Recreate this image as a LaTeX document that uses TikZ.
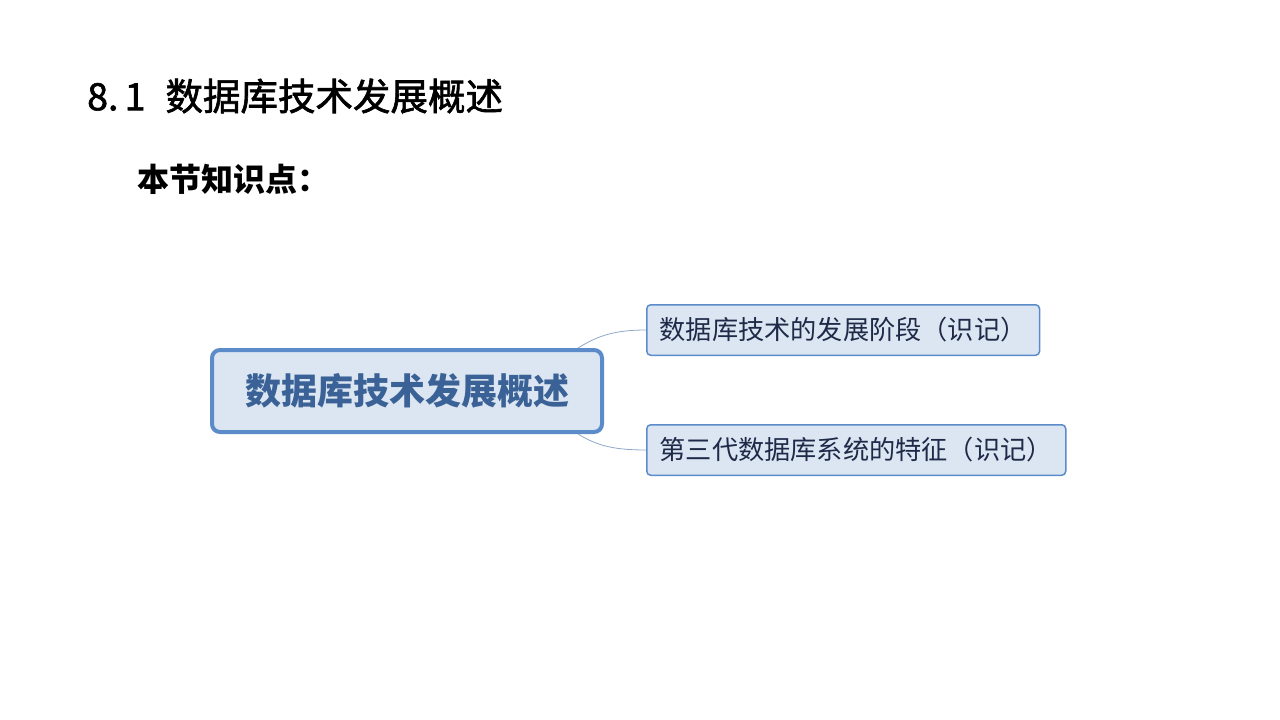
\documentclass[tikz,border=0pt]{standalone}
\usepackage{fontspec}
\usepackage{xcolor}
\usetikzlibrary{positioning}
\newfontfamily\cjk{Noto Sans CJK SC}
\newfontfamily\cjkheavy[FakeBold=1.6]{Noto Sans CJK SC}
\definecolor{boxfill}{HTML}{DCE6F2}
\definecolor{boxline}{HTML}{5B8BC9}
\definecolor{topictext}{HTML}{3A6296}
\definecolor{subtext}{HTML}{1E2A48}
\definecolor{linkcol}{HTML}{8EA7C8}

\begin{document}
\begin{tikzpicture}[
  x=1pt, y=-1pt,
  every node/.style={inner sep=0pt, font=\cjk},
  topic/.style={draw=boxline, fill=boxfill, line width=4pt, rounded corners=8pt,
                minimum width=390pt, minimum height=82pt, text=topictext,
                font=\cjk\bfseries\fontsize{36}{40}\selectfont},
  subtopic/.style={draw=boxline, fill=boxfill, line width=1.5pt, rounded corners=4pt,
                   minimum height=50.5pt, inner xsep=13pt, text=subtext,
                   font=\cjk\fontsize{26.2}{30}\selectfont},
  link/.style={draw=linkcol, line width=0.8pt}
]
  \useasboundingbox (0,0) rectangle (1280,720);

  \node (title) [anchor=west, font=\cjkheavy\fontsize{37.5}{42}\selectfont] at (87,96) {8.\,1\hspace{20pt}数据库技术发展概述};
  \node (points) [anchor=west, font=\cjk\bfseries\fontsize{32}{38}\selectfont] at (137,179) {本节知识点：};

  \node (main) [topic] at (407,391) {数据库技术发展概述};
  \node (stage) [subtopic, right=42pt of main.east, yshift=61pt] {数据库技术的发展阶段（识记）};
  \node (feature) [subtopic, right=42pt of main.east, yshift=-59pt] {第三代数据库系统的特征（识记）};

  \draw[link] ([xshift=-26pt]main.north east) .. controls +(18,-11) and +(-34,0) .. (stage.west);
  \draw[link] ([xshift=-26pt]main.south east) .. controls +(18,11) and +(-34,0) .. (feature.west);
\end{tikzpicture}
\end{document}
